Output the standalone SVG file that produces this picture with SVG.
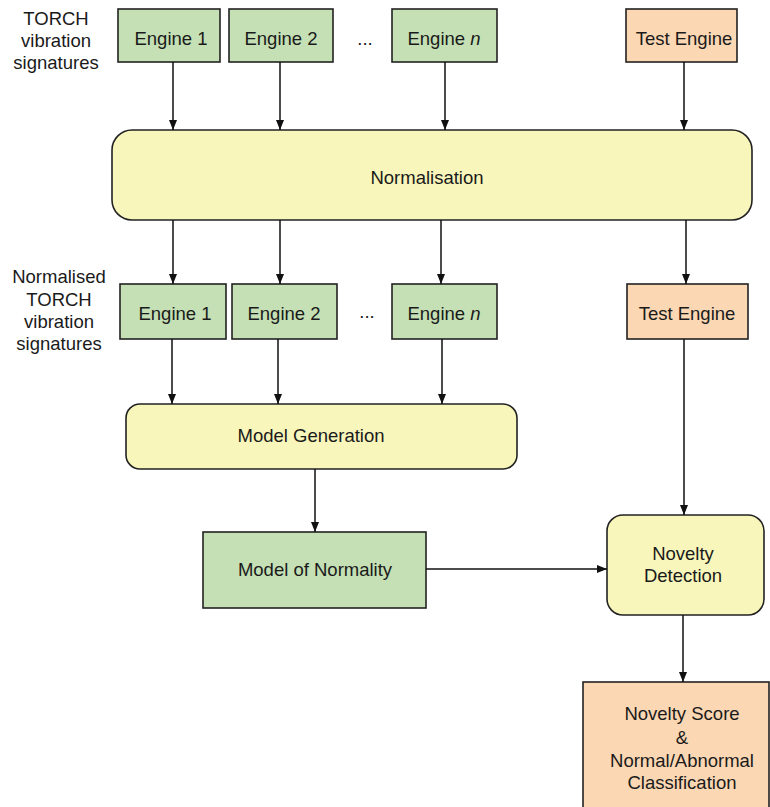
<svg xmlns="http://www.w3.org/2000/svg" width="770" height="807" viewBox="0 0 770 807">
<defs>
<style>
text{font-family:"Liberation Sans",Arial,sans-serif;font-size:18.5px;fill:#1a1a1a;text-anchor:middle}
.box{stroke:#222;stroke-width:1.6}
.g{fill:#c4e0b4}
.o{fill:#fbd7b3}
.y{fill:#f8f6bb}
.c{stroke:#111;stroke-width:1.5;fill:none;marker-end:url(#ah)}
</style>
<marker id="ah" viewBox="0 0 10 8" refX="10" refY="4" markerWidth="10" markerHeight="8" markerUnits="userSpaceOnUse" orient="auto">
<path d="M0,0 L10,4 L0,8 z" fill="#111"/>
</marker>
</defs>
<rect width="770" height="807" fill="#fff"/>

<g id="label-top">
<text x="56" y="25">TORCH</text>
<text x="56" y="47">vibration</text>
<text x="56" y="69">signatures</text>
</g>
<g id="label-mid">
<text x="59" y="283">Normalised</text>
<text x="59" y="306">TORCH</text>
<text x="59" y="328">vibration</text>
<text x="59" y="350">signatures</text>
</g>

<g id="engine1-top"><rect class="box g" x="118" y="9" width="102" height="53"/><text x="171" y="45">Engine 1</text></g>
<g id="engine2-top"><rect class="box g" x="229" y="9" width="104" height="53"/><text x="281" y="45">Engine 2</text></g>
<g id="dots-top"><text x="365" y="45">...</text></g>
<g id="enginen-top"><rect class="box g" x="392" y="9" width="105" height="53"/><text x="444" y="45">Engine <tspan font-style="italic">n</tspan></text></g>
<g id="test-top"><rect class="box o" x="626" y="9" width="111" height="53"/><text x="684" y="45">Test Engine</text></g>

<g id="normalisation"><rect class="box y" x="112" y="130" width="640" height="90" rx="20"/><text x="427" y="184">Normalisation</text></g>

<g id="engine1-mid"><rect class="box g" x="120" y="284" width="106" height="55"/><text x="175" y="320">Engine 1</text></g>
<g id="engine2-mid"><rect class="box g" x="232" y="284" width="105" height="55"/><text x="284" y="320">Engine 2</text></g>
<g id="dots-mid"><text x="367" y="318">...</text></g>
<g id="enginen-mid"><rect class="box g" x="392" y="284" width="105" height="55"/><text x="444" y="320">Engine <tspan font-style="italic">n</tspan></text></g>
<g id="test-mid"><rect class="box o" x="627" y="284" width="121" height="55"/><text x="687" y="320">Test Engine</text></g>

<g id="model-generation"><rect class="box y" x="126" y="404" width="391" height="65" rx="14"/><text x="311" y="442">Model Generation</text></g>
<g id="model-normality"><rect class="box g" x="203" y="532" width="223" height="76"/><text x="315" y="576">Model of Normality</text></g>
<g id="novelty-detection"><rect class="box y" x="607" y="515" width="157" height="100" rx="16"/><text x="683" y="560">Novelty</text><text x="683" y="582">Detection</text></g>
<g id="output"><rect class="box o" x="583" y="682" width="186" height="140"/>
<text x="682" y="720">Novelty Score</text><text x="682" y="744">&amp;</text><text x="682" y="767">Normal/Abnormal</text><text x="682" y="789">Classification</text></g>

<g id="connectors">
<line class="c" x1="173" y1="62" x2="173" y2="130"/>
<line class="c" x1="280" y1="62" x2="280" y2="130"/>
<line class="c" x1="445" y1="62" x2="445" y2="130"/>
<line class="c" x1="684" y1="62" x2="684" y2="130"/>
<line class="c" x1="173" y1="220" x2="173" y2="284"/>
<line class="c" x1="280" y1="220" x2="280" y2="284"/>
<line class="c" x1="441" y1="220" x2="441" y2="284"/>
<line class="c" x1="686" y1="220" x2="686" y2="284"/>
<line class="c" x1="172" y1="339" x2="172" y2="404"/>
<line class="c" x1="278" y1="339" x2="278" y2="404"/>
<line class="c" x1="442" y1="339" x2="442" y2="404"/>
<line class="c" x1="684" y1="339" x2="684" y2="515"/>
<line class="c" x1="315" y1="469" x2="315" y2="532"/>
<line class="c" x1="426" y1="569" x2="607" y2="569"/>
<line class="c" x1="683" y1="615" x2="683" y2="682"/>
</g>
</svg>
